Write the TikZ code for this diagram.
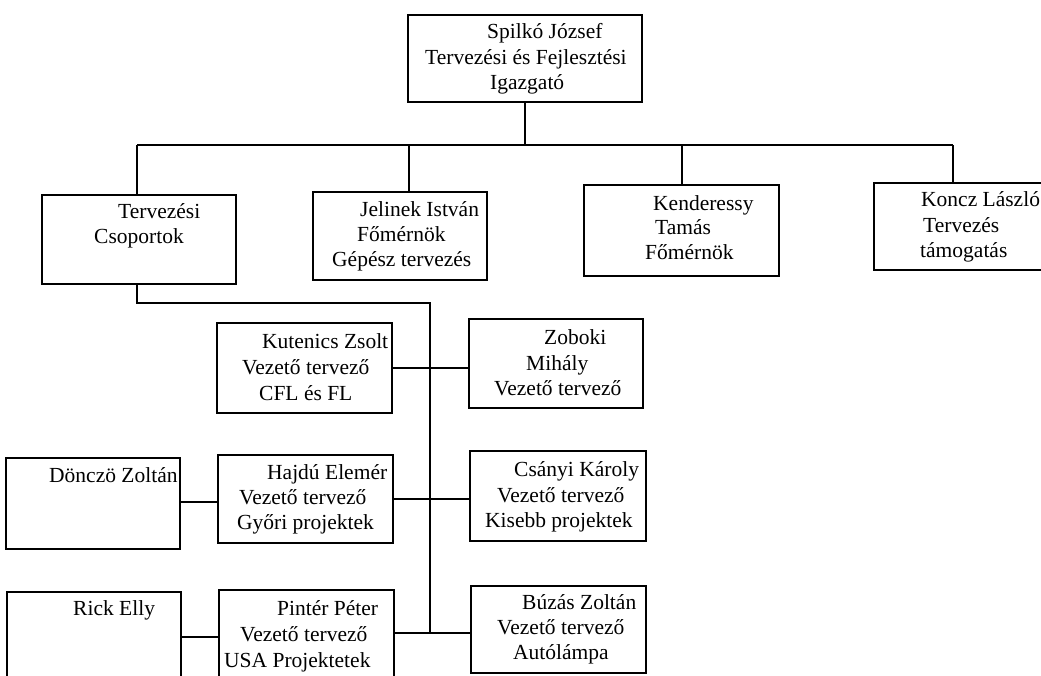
\documentclass[tikz,border=0pt]{standalone}
\usepackage{fontspec}
\setmainfont{Liberation Serif}
\begin{document}
\begin{tikzpicture}[x=1pt,y=-1pt,
  box/.style={draw=black, line width=1.4pt, rectangle, inner sep=0pt},
  conn/.style={draw=black, line width=1.4pt},
  txt/.style={anchor=base west, inner sep=0pt, font=\fontsize{21.5}{26}\selectfont}]
\useasboundingbox (0,0) rectangle (1041,675);
\clip (0,0) rectangle (1041,675);
% boxes
\node[box, minimum width=234pt, minimum height=87pt] (top) at (525,58.5) {};
\node[box, minimum width=194pt, minimum height=89pt] (terv) at (139,239.5) {};
\node[box, minimum width=174pt, minimum height=88pt] (jel) at (400,236) {};
\node[box, minimum width=195pt, minimum height=91pt] (ken) at (681.5,230.5) {};
\node[box, minimum width=176pt, minimum height=87pt] (kon) at (962,226.5) {};
\node[box, minimum width=175pt, minimum height=90pt] (kut) at (304.5,368) {};
\node[box, minimum width=174pt, minimum height=89pt] (zob) at (556,363.5) {};
\node[box, minimum width=174pt, minimum height=91pt] (don) at (93,503.5) {};
\node[box, minimum width=175pt, minimum height=88pt] (haj) at (305.5,499) {};
\node[box, minimum width=176pt, minimum height=90pt] (csa) at (558,496) {};
\node[box, minimum width=174pt, minimum height=90pt] (rick) at (94,637) {};
\node[box, minimum width=175pt, minimum height=90pt] (pin) at (306.5,635) {};
\node[box, minimum width=175pt, minimum height=87pt] (buz) at (558.5,629.5) {};
% bus coordinates
\coordinate (busT) at (525,145);
\coordinate (busL) at (137,145);
\coordinate (busJ) at (409,145);
\coordinate (busK) at (682,145);
\coordinate (busR) at (953,145);
\coordinate (gL) at (137,303);
\coordinate (gR) at (430,303);
\coordinate (gB) at (430,633);
\coordinate (dh) at (180,502);
% connectors
\draw[conn] (top.south -| busT) -- (busT);
\draw[conn] (busL) -- (busR);
\draw[conn] (busL) -- (busL |- terv.north);
\draw[conn] (busJ) -- (busJ |- jel.north);
\draw[conn] (busK) -- (busK |- ken.north);
\draw[conn] (busR) -- (busR |- kon.north);
\draw[conn] (gL |- terv.south) -- (gL) -- (gR) -- (gB);
\draw[conn] (kut.east) -- (zob.west |- kut.east);
\draw[conn] (don.east |- dh) -- (haj.west |- dh);
\draw[conn] (haj.east) -- (csa.west |- haj.east);
\draw[conn] (rick.east) -- (pin.west |- rick.east);
\draw[conn] (pin.east |- gB) -- (buz.west |- gB);
% texts
\node[txt] (t1) at (487,38) {Spilkó József};
\node[txt] (t2) at (425,64) {Tervezési és Fejlesztési};
\node[txt] (t3) at (490,89) {Igazgató};
\node[txt] (tv1) at (118,218) {Tervezési};
\node[txt] (tv2) at (94,243) {Csoportok};
\node[txt] (j1) at (360,216) {Jelinek István};
\node[txt] (j2) at (357,241) {Főmérnök};
\node[txt] (j3) at (332,266) {Gépész tervezés};
\node[txt] (k1) at (653,210) {Kenderessy};
\node[txt] (k2) at (655,234) {Tamás};
\node[txt] (k3) at (645,259) {Főmérnök};
\node[txt] (ko1) at (921,206) {Koncz László};
\node[txt] (ko2) at (923,232) {Tervezés};
\node[txt] (ko3) at (920,257) {támogatás};
\node[txt] (ku1) at (262,348) {Kutenics Zsolt};
\node[txt] (ku2) at (242,374) {Vezető tervező};
\node[txt] (ku3) at (259,400) {CFL és FL};
\node[txt] (z1) at (544,344) {Zoboki};
\node[txt] (z2) at (526,370) {Mihály};
\node[txt] (z3) at (494,395) {Vezető tervező};
\node[txt] (d1) at (49,482) {Dönczö Zoltán};
\node[txt] (h1) at (267,479) {Hajdú Elemér};
\node[txt] (h2) at (239,504) {Vezető tervező};
\node[txt] (h3) at (237,529) {Győri projektek};
\node[txt] (c1) at (514,476) {Csányi Károly};
\node[txt] (c2) at (497,502) {Vezető tervező};
\node[txt] (c3) at (485,527) {Kisebb projektek};
\node[txt] (r1) at (73,615) {Rick Elly};
\node[txt] (p1) at (277,615) {Pintér Péter};
\node[txt] (p2) at (240,641) {Vezető tervező};
\node[txt] (p3) at (224,667) {USA Projektetek};
\node[txt] (b1) at (522,609) {Búzás Zoltán};
\node[txt] (b2) at (497,634) {Vezető tervező};
\node[txt] (b3) at (513,659) {Autólámpa};
\end{tikzpicture}
\end{document}
